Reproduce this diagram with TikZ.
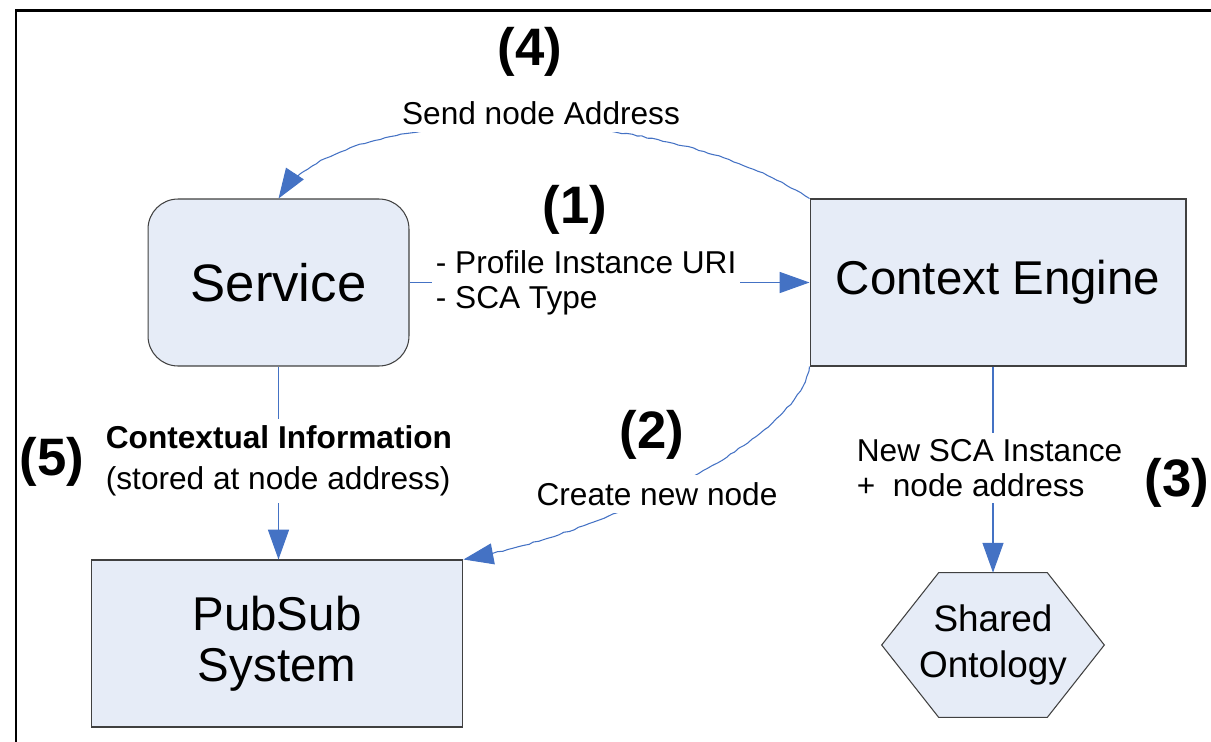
\documentclass[tikz,border=0pt]{standalone}
\usepackage{fontspec}
\setmainfont{Liberation Sans}
\usepackage{tikz}
\usetikzlibrary{arrows.meta, decorations.pathmorphing}
\definecolor{boxfill}{RGB}{230,236,247}
\definecolor{boxline}{RGB}{64,64,64}
\definecolor{flowblue}{RGB}{68,114,196}

\begin{document}
\begin{tikzpicture}[x=0.02cm, y=-0.02cm, every node/.style={inner sep=2pt},
  box/.style={draw=boxline, fill=boxfill, line width=0.6pt, minimum height=3.34cm, align=center},
  num/.style={font=\fontsize{30}{34}\selectfont\bfseries},
  ann/.style={font=\fontsize{18}{20}\selectfont, fill=white, inner ysep=4pt},
  flow/.style={-{Triangle[length=17pt,width=12pt]}, flowblue, line width=0.6pt},
  shaky/.style={decorate, decoration={random steps, segment length=3pt, amplitude=0.35pt, post length=8pt}}]
\pgfmathsetseed{7}
\useasboundingbox (0,0) rectangle (1211,741);
\draw[line width=1.7pt] (16,10.5) rectangle (1240,770);

% the four blocks
\node[box, rounded corners=0.6cm, minimum width=5.22cm, font=\fontsize{30}{34}\selectfont] (S) at (278.5,282.5) {Service};
\node[box, minimum width=7.52cm, font=\fontsize{27}{30}\selectfont] (CE) at (998,282.5) {Context Engine};
\node[box, minimum width=7.44cm, font=\fontsize{27}{29}\selectfont] (PS) at (277,643.5) {PubSub\\System};
% hexagon for the ontology
\node[minimum width=4.44cm, minimum height=2.88cm, inner sep=0pt] (SO) at (993,645) {};
\draw[draw=boxline, fill=boxfill, line width=0.6pt] (SO.west) -- ([xshift=1.14cm]SO.north west)
  -- ([xshift=-1.14cm]SO.north east) -- (SO.east) -- ([xshift=-1.14cm]SO.south east)
  -- ([xshift=1.14cm]SO.south west) -- cycle;
\node[align=center, font=\fontsize{21}{26}\selectfont] (SOtext) at (SO.center) {Shared\\Ontology};

% connectors
\draw[flow] (S.east) -- (CE.west);
\draw[flow] (S.south) -- (S.south |- PS.north);
\draw[flow] (SO.north |- CE.south) -- (SO.north);
\draw[flow, shaky] (CE.north west) .. controls (650,95) and (330,105) .. (S.north);
\draw[flow, shaky] (CE.south west) .. controls (800,440) and (600,535) .. (PS.north east);

% step numbers and labels
\node[num] (n4) at (530,52) {(4)};
\node[ann] (send) at (541,113) {Send node Address};
\node[num] (n1) at (575,210) {(1)};
\node[ann, anchor=west, align=left] (prof) at (432,283) {- Profile Instance URI\\- SCA Type};
\node[num] (n2) at (652,435) {(2)};
\node[ann] (create) at (657,494) {Create new node};
\node[num] (n3) at (1177,483) {(3)};
\node[ann, anchor=west, align=left, font=\fontsize{18}{19.5}\selectfont] (sca) at (853,468) {New SCA Instance\\+\ \ node address};
\node[num] (n5) at (52,462) {(5)};
\node[ann, anchor=west, align=left, font=\fontsize{18}{23}\selectfont] (ctx) at (102,461)
  {\textbf{Contextual Information}\\(stored at node address)};
\end{tikzpicture}
\end{document}
